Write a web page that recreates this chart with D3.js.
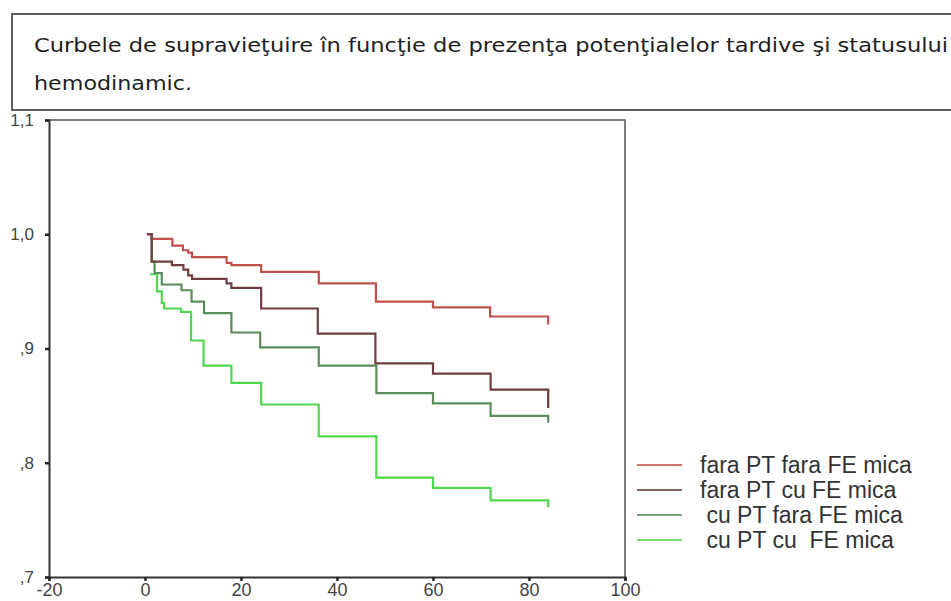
<!DOCTYPE html>
<html>
<head>
<meta charset="utf-8">
<script src="https://cdn.jsdelivr.net/npm/d3@7"></script>
<style>
  body { margin: 0; background: #fff; }
</style>
</head>
<body>
<div id="chart"></div>
<script>
// ----------------------------------------------------------------------------
// DATA
// ----------------------------------------------------------------------------
const titleLines = [
  'Curbele de supravieţuire în funcţie de prezenţa potenţialelor tardive şi statusului',
  'hemodinamic.',
];

const seriesNames = [
  'fara PT fara FE mica',
  'fara PT cu FE mica',
  ' cu PT fara FE mica',
  ' cu PT cu  FE mica',
];

const redTimes = [0.4, 1.4, 5.7, 7.9, 9, 9.8, 17, 18, 24.2, 36.2, 48.1, 60, 71.9, 84];
const redValues = [1.0, 0.996, 0.990, 0.986, 0.984, 0.980, 0.975, 0.973, 0.967, 0.957, 0.941, 0.936, 0.928, 0.921];

const brownTimes = [0.4, 1.4, 5.6, 8, 9, 9.8, 17, 18, 24.2, 36, 48, 60, 72, 84];
const brownValues = [1.0, 0.976, 0.973, 0.969, 0.964, 0.961, 0.957, 0.953, 0.935, 0.913, 0.887, 0.878, 0.864, 0.848];

const darkGreenTimes = [0.4, 1.4, 2.0, 3.5, 7.6, 9.7, 12.3, 18, 24, 36.2, 48.2, 60, 72, 84];
const darkGreenValues = [1.0, 0.976, 0.966, 0.956, 0.951, 0.941, 0.931, 0.914, 0.901, 0.885, 0.861, 0.852, 0.841, 0.835];

const lightGreenTimes = [1.0, 2.5, 3.5, 4.0, 7.5, 9.6, 12.2, 18, 24.2, 36.2, 48.2, 60, 72, 84];
const lightGreenValues = [0.965, 0.950, 0.940, 0.935, 0.932, 0.907, 0.885, 0.870, 0.851, 0.823, 0.787, 0.778, 0.767, 0.761];

const xTicks = [-20, 0, 20, 40, 60, 80, 100];
const yTicks = [0.7, 0.8, 0.9, 1.0, 1.1];
const yTickLabels = [',7', ',8', ',9', '1,0', '1,1'];

const seriesColors = ['#c0504d', '#6e3d3f', '#5c8c5c', '#4fd84f'];

// ----------------------------------------------------------------------------
// SIZES
// ----------------------------------------------------------------------------
const svgWidth = 951;
const svgHeight = 601;

const plotLeft = 49;
const plotRight = 625;
const plotTop = 120;
const plotBottom = 577;

const svg = d3.select('#chart').append('svg')
  .attr('width', svgWidth)
  .attr('height', svgHeight);

const xScale = d3.scaleLinear().domain([-20, 100]).range([plotLeft, plotRight]);
const yScale = d3.scaleLinear().domain([0.7, 1.1]).range([plotBottom, plotTop]);

// ----------------------------------------------------------------------------
// TITLE BOX
// ----------------------------------------------------------------------------
svg.append('rect')
  .attr('x', 12)
  .attr('y', 14)
  .attr('width', 960)
  .attr('height', 96)
  .attr('fill', 'none')
  .attr('stroke', '#2b2b2b')
  .attr('stroke-width', 1.5);

const titleWidths = [914, 158]; // the source text is stretched to these widths
svg.selectAll('.title-line').data(titleLines).enter()
  .append('text')
    .attr('class', 'title-line')
    .attr('x', 34)
    .attr('y', (d, i) => 52 + i * 38)
    .attr('font-family', '"DejaVu Sans", sans-serif')
    .attr('font-size', 20)
    .attr('fill', '#1e1e1e')
    .attr('textLength', (d, i) => titleWidths[i])
    .attr('lengthAdjust', 'spacingAndGlyphs')
    .text(d => d);

// ----------------------------------------------------------------------------
// FRAME + AXES
// ----------------------------------------------------------------------------
svg.append('path')
  .attr('d', `M${plotLeft},${plotTop}H${plotRight}V${plotBottom}`)
  .attr('fill', 'none')
  .attr('stroke', '#555')
  .attr('stroke-width', 1.5);

const yAxis = svg.append('g')
  .attr('transform', `translate(${plotLeft},0)`)
  .call(d3.axisLeft(yScale)
    .tickValues(yTicks)
    .tickSize(4)
    .tickPadding(11)
    .tickFormat((d, i) => yTickLabels[i]));

const xAxis = svg.append('g')
  .attr('transform', `translate(0,${plotBottom})`)
  .call(d3.axisBottom(xScale)
    .tickValues(xTicks)
    .tickSize(4)
    .tickPadding(2)
    .tickFormat(d => d));

[yAxis, xAxis].forEach(axis => {
  axis.select('.domain').attr('stroke', '#333').attr('stroke-width', 2);
  axis.selectAll('.tick line').attr('stroke', '#222').attr('stroke-width', 2.5);
  axis.selectAll('.tick text')
    .attr('font-family', '"Liberation Sans", Arial, sans-serif')
    .attr('font-size', 17)
    .attr('fill', '#444');
});
xAxis.selectAll('.tick text').attr('font-size', 18);

// ----------------------------------------------------------------------------
// SURVIVAL CURVES (steps)
// ----------------------------------------------------------------------------
const curves = [
  {times: redTimes, values: redValues},
  {times: brownTimes, values: brownValues},
  {times: darkGreenTimes, values: darkGreenValues},
  {times: lightGreenTimes, values: lightGreenValues},
].map((c, i) => ({
  color: seriesColors[i],
  points: c.times.map((t, j) => [t, c.values[j]]),
}));

const stepLine = d3.line()
  .x(d => xScale(d[0]))
  .y(d => yScale(d[1]))
  .curve(d3.curveStepAfter);

// draw the greens first so the shared start is brownish like the source
const drawOrder = [3, 2, 0, 1];
svg.append('g').selectAll('path')
  .data(drawOrder.map(i => curves[i]))
  .enter()
  .append('path')
    .attr('d', d => stepLine(d.points))
    .attr('fill', 'none')
    .attr('stroke', d => d.color)
    .attr('stroke-width', 2.2);

// ----------------------------------------------------------------------------
// LEGEND
// ----------------------------------------------------------------------------
const legend = svg.append('g').attr('transform', 'translate(637,465)');
const legendRows = legend.selectAll('.legend-row')
  .data(seriesNames)
  .enter()
  .append('g')
    .attr('class', 'legend-row')
    .attr('transform', (d, i) => `translate(0,${i * 25})`);
legendRows.append('line')
  .attr('x1', 0).attr('x2', 45)
  .attr('stroke', (d, i) => seriesColors[i])
  .attr('stroke-width', 2)
  .attr('opacity', 0.8);
legendRows.append('text')
  .attr('x', 63)
  .attr('y', 8)
  .attr('font-family', '"Liberation Sans", Arial, sans-serif')
  .attr('font-size', 23)
  .attr('fill', '#333')
  .style('white-space', 'pre')
  .text(d => d);
</script>
</body>
</html>
